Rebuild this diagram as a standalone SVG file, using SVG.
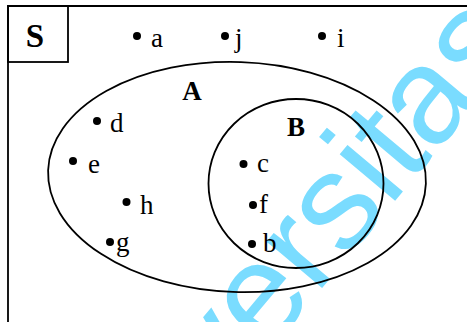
<svg xmlns="http://www.w3.org/2000/svg" width="467" height="322" viewBox="0 0 467 322">
<style>
.line{fill:none;stroke:#000;stroke-width:1.8}
.lbl{font-family:"Liberation Serif","Times New Roman",serif;font-size:27px;fill:#000}
.bold{font-family:"Liberation Serif","Times New Roman",serif;font-weight:bold;fill:#000}
.dot{fill:#000}
.wm{font-family:"Liberation Sans",Arial,sans-serif;font-size:137px;fill:#7ADCFF}
</style>
<rect width="467" height="322" fill="#fff"/>
<text class="wm" transform="translate(223,406) rotate(-50)">versitas</text>
<g id="universe">
<polyline class="line" points="467,6 8,6 8,322"/>
<g id="S-box">
<rect class="line" x="8" y="6" width="60" height="56"/>
<text class="bold" x="35" y="47" font-size="33" text-anchor="middle">S</text>
</g>
</g>
<g id="set-A">
<ellipse class="line" cx="237" cy="177" rx="189" ry="115" transform="rotate(2 237 177)"/>
<text class="bold" x="192" y="100" font-size="27" text-anchor="middle">A</text>
</g>
<g id="set-B">
<ellipse class="line" cx="296" cy="183.5" rx="87.5" ry="84.5"/>
<text class="bold" x="296" y="136" font-size="27" text-anchor="middle">B</text>
</g>
<g id="connectors"/>
<g id="el-a"><circle class="dot" cx="137" cy="36" r="4"/><text class="lbl" x="151" y="47">a</text></g>
<g id="el-j"><circle class="dot" cx="225" cy="36" r="4"/><text class="lbl" x="235" y="47">j</text></g>
<g id="el-i"><circle class="dot" cx="322" cy="36" r="4"/><text class="lbl" x="337" y="47">i</text></g>
<g id="el-d"><circle class="dot" cx="97" cy="121" r="4"/><text class="lbl" x="110" y="132">d</text></g>
<g id="el-e"><circle class="dot" cx="73" cy="161" r="4"/><text class="lbl" x="88" y="173">e</text></g>
<g id="el-h"><circle class="dot" cx="126.5" cy="202" r="4"/><text class="lbl" x="140" y="214">h</text></g>
<g id="el-g"><circle class="dot" cx="110" cy="242" r="4"/><text class="lbl" x="116" y="251">g</text></g>
<g id="el-c"><circle class="dot" cx="243.5" cy="164" r="4"/><text class="lbl" x="257" y="172">c</text></g>
<g id="el-f"><circle class="dot" cx="253" cy="205" r="4"/><text class="lbl" x="259" y="213">f</text></g>
<g id="el-b"><circle class="dot" cx="252" cy="244" r="4"/><text class="lbl" x="263" y="252">b</text></g>
</svg>
